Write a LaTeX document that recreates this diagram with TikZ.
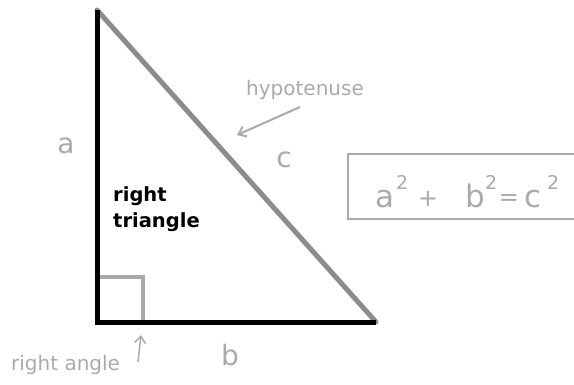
\documentclass[tikz,border=0pt]{standalone}
\usepackage{fontspec}
\setmainfont{DejaVu Sans}
\usetikzlibrary{arrows.meta}
\definecolor{lg}{RGB}{170,170,170}
\definecolor{hg}{RGB}{140,140,140}
\begin{document}
\begin{tikzpicture}[x=1pt,y=-1pt,
  lbl/.style={text=lg,font=\fontsize{28}{30}\selectfont,inner sep=0pt},
  note/.style={text=lg,font=\fontsize{20}{22}\selectfont,inner sep=0pt},
  eqbig/.style={text=lg,font=\fontsize{31}{33}\selectfont,inner sep=0pt,anchor=base west},
  eqsm/.style={text=lg,font=\fontsize{19}{21}\selectfont,inner sep=0pt,anchor=base west},
  eqop/.style={text=lg,font=\fontsize{24}{26}\selectfont,inner sep=0pt,anchor=center},
  ptr/.style={draw=lg,line width=2pt,-{Straight Barb[length=7pt,width=11pt]}}]
\useasboundingbox (0,0) rectangle (574,384);
\coordinate (A) at (97,10);
\coordinate (C) at (97,322);
\coordinate (B) at (376,322);
\draw[hg,line width=5pt,line cap=round] (A) -- (B);
\draw[black,line width=5pt,line join=miter] (A) -- (C) -- (B);
\coordinate (s1) at (100,277);
\coordinate (s2) at (143,277);
\coordinate (s3) at (143,320);
\draw[lg,line width=4pt] (s1) -- (s2) -- (s3);
\node[lbl] (la) at (66,146) {a};
\node[lbl] (lb) at (230,355) {b};
\node[lbl] (lc) at (284,160) {c};
\node[note,anchor=base] (hyp) at (305,95) {hypotenuse};
\coordinate (ht) at (300,107);
\coordinate (hh) at (237,135);
\draw[ptr] (ht) -- (hh);
\node[note,anchor=base west] (ra) at (11,370) {right angle};
\coordinate (rt) at (138,362);
\coordinate (rh) at (141,335);
\draw[ptr,line width=1.5pt] (rt) -- (rh);
\node[anchor=base west,align=left,inner sep=0pt,font=\bfseries\fontsize{19.5}{26}\selectfont] (rtri) at (113,227) {right\\triangle};
\draw[lg,line width=2.5pt] (580,154) -- (348,154) -- (348,219) -- (580,219);
\node[eqbig] (ea) at (375,207) {a};
\node[eqsm] (e2a) at (396,189) {2};
\node[eqop] (ep) at (428,199) {+};
\node[eqbig] (eb) at (465,207) {b};
\node[eqsm] (e2b) at (485,189) {2};
\node[eqop] (eeq) at (509,200) {=};
\node[eqbig] (ec) at (524,207) {c};
\node[eqsm] (e2c) at (547,189) {2};
\end{tikzpicture}
\end{document}
